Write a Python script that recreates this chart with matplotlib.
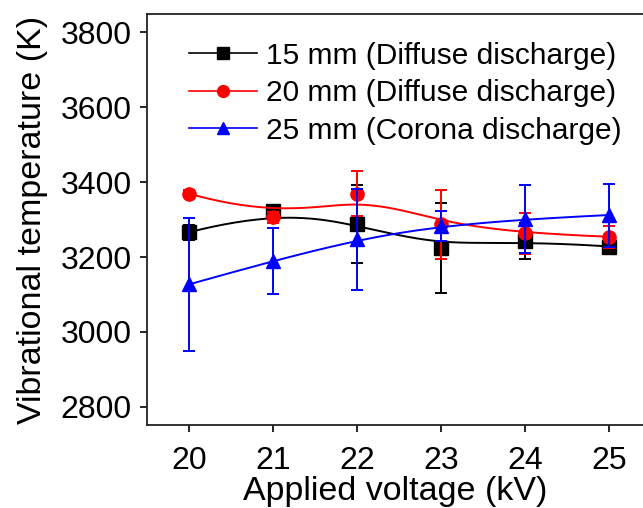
import numpy as np
import matplotlib.pyplot as plt

plt.rcParams['font.family'] = ['Liberation Sans', 'DejaVu Sans']

# Applied voltage (kV)
voltage = [20, 21, 22, 23, 24, 25]

# Vibrational temperature (K) and error bars
t15 = [3266, 3323, 3288, 3225, 3243, 3228]
e15 = [20, 12, 103, 120, 47, 10]
t20 = [3369, 3306, 3369, 3288, 3263, 3254]
e20 = [10, 15, 60, 92, 55, 30]
t25 = [3127, 3190, 3247, 3283, 3301, 3312]
e25 = [177, 88, 135, 40, 90, 84]

labels = ['15 mm (Diffuse discharge)', '20 mm (Diffuse discharge)',
          '25 mm (Corona discharge)']
colors = ['black', 'red', 'blue']
markers = ['s', 'o', '^']


def bspline(xs, ys, n=300):
    # clamped cubic B-spline with the data points as control points
    P = np.column_stack([xs, ys]).astype(float)
    k = 3
    m = len(P)
    knots = np.concatenate([[0] * k, np.arange(m - k + 1), [m - k] * k]).astype(float)
    out = []
    for t in np.linspace(0, m - k, n):
        s = min(int(np.searchsorted(knots, t, side='right')) - 1, m - 1)
        d = [P[j + s - k].copy() for j in range(k + 1)]
        for r in range(1, k + 1):
            for j in range(k, r - 1, -1):
                i = j + s - k
                den = knots[i + k + 1 - r] - knots[i]
                a = 0.0 if den == 0 else (t - knots[i]) / den
                d[j] = (1 - a) * d[j - 1] + a * d[j]
        out.append(d[k])
    out = np.array(out)
    return out[:, 0], out[:, 1]


fig = plt.figure(figsize=(6.43, 5.08), dpi=100)
ax = fig.add_axes([0.2286, 0.1634, 0.7714, 0.809])

for i, (y, e) in enumerate([(t15, e15), (t20, e20), (t25, e25)]):
    c = colors[i]
    sx, sy = bspline(voltage, y)
    ax.plot(sx, sy, color=c, lw=1.4, zorder=2 + i)
    ax.errorbar(voltage, y, yerr=e, fmt='none', ecolor=c, elinewidth=1.4,
                capsize=4, capthick=1.4, zorder=2 + i)
    ax.plot(voltage, y, ls='none', marker=markers[i], ms=9.5 if i != 2 else 10.5,
            color=c, zorder=2 + i)
    # legend proxy
    ax.plot([], [], color=c, lw=1.2, marker=markers[i], ms=8.5, label=labels[i])

ax.set_xlim(19.5, 25.4)
ax.set_ylim(2752, 3848)
ax.set_xticks(voltage)
ax.set_yticks([2800, 3000, 3200, 3400, 3600, 3800])
ax.tick_params(direction='out', length=5, width=1.2, labelsize=23)
ax.tick_params(axis='x', pad=10)
ax.tick_params(axis='y', pad=6)
for sp in ax.spines.values():
    sp.set_linewidth(1.3)
    sp.set_color('#222222')
ax.spines['right'].set_visible(False)

ax.set_xlabel('Applied voltage (kV)', fontsize=24.5, labelpad=0)
ax.set_ylabel('Vibrational temperature (K)', fontsize=24.5, labelpad=9)

ax.legend(loc='upper left', bbox_to_anchor=(0.06, 0.962), frameon=False,
          fontsize=21.5, handlelength=2.3, handletextpad=0.3,
          labelspacing=0.32, borderaxespad=0)

fig.savefig('out.png', dpi=100)
